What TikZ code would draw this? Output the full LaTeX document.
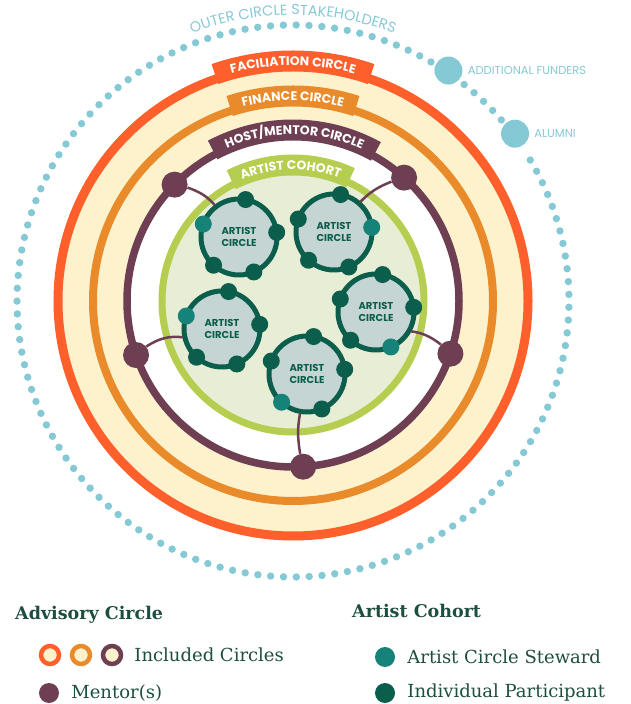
\documentclass[tikz,border=0pt]{standalone}
\usepackage{fontspec}
\setmainfont{DejaVu Serif}
\newfontfamily\geofont{Poppins}
\usepackage{tikz}
\usetikzlibrary{positioning,decorations.text}

\definecolor{facilcol}{HTML}{FF5F2A}
\definecolor{financecol}{HTML}{E98B2B}
\definecolor{mentorcol}{HTML}{6E3F52}
\definecolor{cohortcol}{HTML}{B6CE4F}
\definecolor{cohortbgcol}{HTML}{E7EED5}
\definecolor{creamcol}{HTML}{FEF2CD}
\definecolor{bluecol}{HTML}{85C9D5}
\definecolor{artistbgcol}{HTML}{C4D5D3}
\definecolor{deepgreencol}{HTML}{0B5E4C}
\definecolor{stewardcol}{HTML}{178378}
\definecolor{legendcol}{HTML}{1D4E40}

\begin{document}
\begin{tikzpicture}[
            x=1pt, y=1pt,
            ribbon/.style={line width=21pt},
            bannertext/.style={decorate, decoration={text along path, text align=center, text color=white,
                text={|\geofont\bfseries\fontsize{12.5}{12.5}\selectfont|#1}}},
            artist/.style={circle, draw=deepgreencol, line width=5pt, fill=artistbgcol, minimum size=76pt, inner sep=0pt,
                outer sep=0pt, align=center, text=deepgreencol, font=\geofont\bfseries\fontsize{10}{11.5}\selectfont},
            participant/.style={circle, fill=deepgreencol, minimum size=17pt, inner sep=0pt},
            steward/.style={participant, fill=stewardcol},
            mentordot/.style={circle, fill=mentorcol, minimum size=26pt, inner sep=0pt},
            link/.style={mentorcol, line width=2.5pt, shorten >=2pt},
            bigdot/.style={circle, fill=bluecol, minimum size=28pt, inner sep=0pt},
            bluelabel/.style={text=bluecol, font=\geofont\fontsize{11.5}{11.5}\selectfont, inner sep=0pt},
            legring/.style={circle, fill=creamcol, line width=4.5pt, minimum size=18pt, inner sep=0pt},
            legdot/.style={circle, minimum size=20pt, inner sep=0pt},
            legtext/.style={text=legendcol, font=\fontsize{18}{18}\selectfont, inner sep=0pt},
            leghead/.style={text=legendcol, font=\bfseries\fontsize{17.5}{17.5}\selectfont, inner sep=0pt}
        ]
            \useasboundingbox (0,0) rectangle (631,704);

            \begin{scope}[shift={(293,403)}]
            % outer circle stakeholders
            \foreach \a in {60,62.667,...,393} \fill[bluecol] (\a:276) circle (3.7);
            \foreach \a in {41,43.667,...,52} \fill[bluecol] (\a:276) circle (3.7);
            \path[decorate, decoration={text along path, text align=center, text color=bluecol,
                text={|\geofont\fontsize{14.5}{14.5}\selectfont|OUTER CIRCLE STAKEHOLDERS}}]
                (124:286) arc[start angle=124, end angle=56, radius=286];
            \node[bigdot] (funders) at (56:278) {};
            \node[bigdot] (alumni) at (37:278) {};
            \node[bluelabel, right=5pt of funders] {ADDITIONAL FUNDERS};
            \node[bluelabel, right=5pt of alumni] {ALUMNI};

            % advisory circles
            \fill[creamcol] (0,0) circle (235);
            \draw[facilcol, line width=9pt] (0,0) circle (235);
            \draw[financecol, line width=8pt] (0,0) circle (200);
            \draw[mentorcol, line width=7.5pt, fill=white] (0,0) circle (166);
            \draw[cohortcol, line width=7pt, fill=cohortbgcol] (0,0) circle (131);

            % banners
            \draw[ribbon, facilcol] (109:240) arc[start angle=109, end angle=71, radius=240];
            \path[bannertext={FACILIATION CIRCLE}] (109:235.5) arc[start angle=109, end angle=71, radius=235.5];
            \draw[ribbon, financecol] (108:205) arc[start angle=108, end angle=72, radius=205];
            \path[bannertext={FINANCE CIRCLE}] (108:200.5) arc[start angle=108, end angle=72, radius=200.5];
            \draw[ribbon, mentorcol] (118:171) arc[start angle=118, end angle=61, radius=171];
            \path[bannertext={HOST/MENTOR CIRCLE}] (118:166.5) arc[start angle=118, end angle=61, radius=166.5];
            \draw[ribbon, cohortcol] (117:136) arc[start angle=117, end angle=65, radius=136];
            \path[bannertext={ARTIST COHORT}] (117:131.5) arc[start angle=117, end angle=65, radius=131.5];

            % artist circles
            \foreach \n/\pos/\s in {1/{-54,64}/160, 2/{41,69}/7, 3/{83,-11}/293, 4/{-71,-28}/160, 5/{14,-73}/228} {
                \node[artist] (c\n) at (\pos) {ARTIST\\CIRCLE};
                \foreach \a in {160,80,7,228,293} {
                    \ifnum\a=\s
                        \node[steward] (c\n-\a) at (c\n.\a) {};
                    \else
                        \node[participant] (c\n-\a) at (c\n.\a) {};
                    \fi
                }
            }

            % mentors
            \foreach \n/\a in {1/135.5, 2/48, 3/341.5, 4/199, 5/273.5}
                \node[mentordot] (m\n) at (\a:166) {};
            \draw[link] (m1) to[bend left=15] (c1.127);
            \draw[link] (m2) to[bend right=12] (c2.49);
            \draw[link] (m3) to[bend right=15] (c3.330);
            \draw[link] (m4) to[bend left=20] (c4.193);
            \draw[link] (m5) to[bend left=10] (c5.260);
            \end{scope}

            % Legend
            \node[leghead, anchor=base west] (advisory) at (15,84) {Advisory Circle};
            \node[legring, draw=facilcol] (ring1) at (50,49) {};
            \node[legring, draw=financecol] (ring2) at (81,49) {};
            \node[legring, draw=mentorcol] (ring3) at (112,49) {};
            \node[legtext, right=11pt of ring3] (included) {Included Circles};
            \node[legdot, fill=mentorcol] (legmentor) at (49,11) {};
            \node[legtext, right=12pt of legmentor] (mentors) {Mentor(s)};

            \node[leghead, anchor=base west] (cohort) at (352,86) {Artist Cohort};
            \node[legdot, fill=stewardcol] (legsteward) at (385,47) {};
            \node[legtext, right=12pt of legsteward] (stewards) {Artist Circle Steward};
            \node[legdot, fill=deepgreencol] (legpart) at (385,11) {};
            \node[legtext, right=12pt of legpart] (parts) {Individual Participant};
        \end{tikzpicture}
\end{document}
